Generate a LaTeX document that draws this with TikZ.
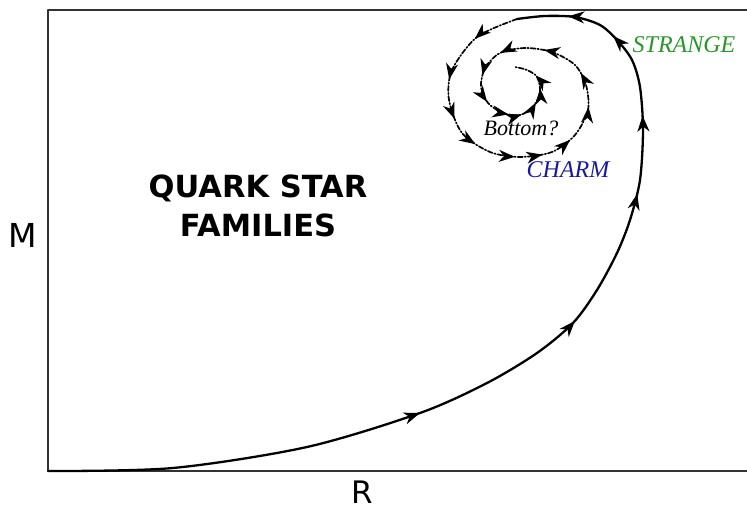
\documentclass[tikz,border=0pt]{standalone}
\usepackage{fontspec}
\setmainfont{DejaVu Sans}
\newfontfamily\swash{Liberation Serif}
\usetikzlibrary{arrows.meta,decorations.markings}
\definecolor{strangegreen}{RGB}{40,150,40}
\definecolor{charmblue}{RGB}{25,25,160}
\tikzset{
	axis/.style={line width=2.8pt, draw=black!80},
	track/.style={line width=2.3pt},
	tip/.style={postaction={decorate, decoration={markings, mark=at position #1 with {\arrow{Stealth[length=16pt,width=12pt,inset=5pt]}}}}},
	flavour/.style={inner sep=1pt, font=\swash\itshape\fontsize{24}{28}\selectfont},
}
\begin{document}
\begin{tikzpicture}[x=1pt, y=-1pt, line join=round, line cap=round]
				\useasboundingbox (0,0) rectangle (747,510);
				\draw[axis] (747,10) -- (48,10) -- (48,471) -- (747,471);
				\draw[track, tip/.list={0.39,0.577,0.724,0.805,0.895,0.947}] plot[smooth] coordinates {(48,471) (173,468) (307,447) (420,413) (487,383) (537,353) (573,323) (597,290) (617,253) (630,220) (640,180) (643,130) (640,87) (632,60) (617,40) (600,25) (575,17) (545,16) (517,19)};
				\draw[track, line width=1.7pt, dash pattern=on 5pt off 2pt on 1.2pt off 2pt, tip/.list={0.078,0.159,0.226,0.282,0.352,0.398,0.451,0.515,0.574,0.648,0.722,0.771,0.818,0.86,0.882,0.914,0.939,0.962}] plot[smooth] coordinates {(517,19) (477,37) (452,70) (449,100) (462,133) (490,152) (520,157) (552,152) (575,135) (588,110) (586,85) (575,65) (552,52) (525,48) (500,53) (485,68) (481,87) (488,103) (503,113) (520,115) (533,107) (540,92) (537,77) (527,70) (515,67)};
				\node[font=\bfseries\fontsize{30.5}{39}\selectfont, align=center] (family) at (258,206) {QUARK STAR\\FAMILIES};
				\node[inner sep=0pt, font=\fontsize{33}{40}\selectfont] (mass) at (23,235) {M};
				\node[inner sep=0pt, font=\fontsize{31}{36}\selectfont] (radius) at (362,492) {R};
				\node[flavour, text=strangegreen] (strange) at (684,45) {STRANGE};
				\node[flavour, text=charmblue] (charm) at (568,170) {CHARM};
				\node[flavour, font=\swash\itshape\fontsize{22}{26}\selectfont] (bottom) at (521,128) {Bottom?};
			\end{tikzpicture}
\end{document}
